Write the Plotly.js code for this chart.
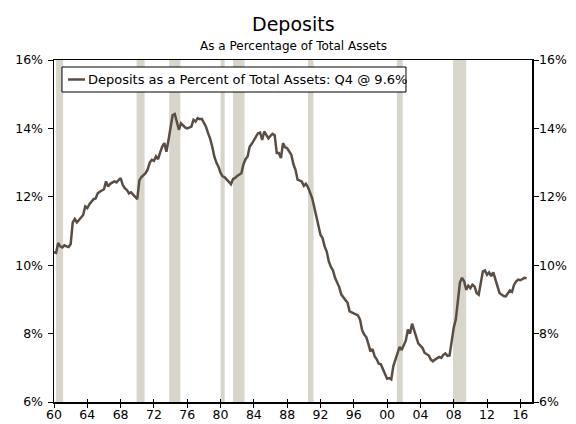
<!DOCTYPE html>
<html>
<head>
<meta charset="utf-8">
<script src="https://cdn.plot.ly/plotly-3.0.1.min.js"></script>
<style>html,body{margin:0;padding:0;background:#fff;}#chart{width:576px;height:424px;}</style>
</head>
<body>
<div id="chart"></div>
<script>
// Quarterly values, 1960Q1 .. 2016Q4 (four per year)
var startYear = 1960;
var depositsPct = [
  10.38, 10.36, 10.65, 10.55, // 1960
  10.52, 10.58, 10.55, 10.53, // 1961
  10.62, 11.25, 11.35, 11.25, // 1962
  11.32, 11.40, 11.47, 11.72, // 1963
  11.67, 11.78, 11.86, 11.93, // 1964
  11.95, 12.10, 12.15, 12.18, // 1965
  12.22, 12.45, 12.30, 12.38, // 1966
  12.42, 12.45, 12.42, 12.48, // 1967
  12.55, 12.35, 12.25, 12.20, // 1968
  12.10, 12.13, 12.05, 12.00, // 1969
  11.93, 12.48, 12.58, 12.64, // 1970
  12.69, 12.80, 13.00, 13.08, // 1971
  13.05, 13.18, 13.10, 13.30, // 1972
  13.47, 13.57, 13.32, 13.66, // 1973
  14.05, 14.39, 14.42, 14.15, // 1974
  13.96, 14.15, 14.08, 14.03, // 1975
  14.00, 14.02, 14.05, 14.25, // 1976
  14.20, 14.30, 14.27, 14.28, // 1977
  14.15, 14.05, 13.86, 13.70, // 1978
  13.47, 13.18, 13.00, 12.88, // 1979
  12.70, 12.60, 12.57, 12.50, // 1980
  12.45, 12.37, 12.52, 12.55, // 1981
  12.61, 12.65, 12.69, 12.95, // 1982
  13.10, 13.18, 13.47, 13.55, // 1983
  13.66, 13.76, 13.86, 13.88, // 1984
  13.66, 13.91, 13.80, 13.71, // 1985
  13.78, 13.84, 13.80, 13.28, // 1986
  13.28, 13.13, 13.57, 13.45, // 1987
  13.42, 13.32, 13.23, 12.95, // 1988
  12.79, 12.50, 12.47, 12.45, // 1989
  12.32, 12.38, 12.28, 12.10, // 1990
  11.96, 11.70, 11.40, 11.10, // 1991
  10.89, 10.79, 10.55, 10.40, // 1992
  10.11, 9.95, 9.85, 9.63,    // 1993
  9.50, 9.36, 9.14, 9.05,     // 1994
  8.99, 8.90, 8.65, 8.62,     // 1995
  8.60, 8.55, 8.53, 8.41,     // 1996
  8.10, 7.97, 7.90, 7.70,     // 1997
  7.48, 7.55, 7.34, 7.25,     // 1998
  7.12, 7.10, 6.95, 6.80,     // 1999
  6.68, 6.70, 6.66, 7.05,     // 2000
  7.25, 7.39, 7.61, 7.52,     // 2001
  7.68, 7.80, 8.12, 8.00,     // 2002
  8.29, 8.10, 7.87, 7.71,     // 2003
  7.65, 7.58, 7.44, 7.40,     // 2004
  7.36, 7.24, 7.19, 7.24,     // 2005
  7.28, 7.32, 7.29, 7.38,     // 2006
  7.42, 7.35, 7.36, 7.75,     // 2007
  8.17, 8.41, 8.90, 9.50,     // 2008
  9.63, 9.53, 9.28, 9.40,     // 2009
  9.33, 9.43, 9.38, 9.19,     // 2010
  9.14, 9.48, 9.82, 9.85,     // 2011
  9.72, 9.79, 9.68, 9.79,     // 2012
  9.57, 9.38, 9.19, 9.14,     // 2013
  9.10, 9.09, 9.16, 9.26,     // 2014
  9.22, 9.43, 9.53, 9.58,     // 2015
  9.56, 9.60, 9.63, 9.62      // 2016
];

// Recession periods (decimal years)
var recessionStart = [1960.25, 1969.92, 1973.83, 1980.00, 1981.50, 1990.50, 2001.17, 2007.92];
var recessionEnd   = [1961.10, 1970.88, 1975.17, 1980.50, 1982.88, 1991.17, 2001.88, 2009.50];

var xTickVals = [1960,1964,1968,1972,1976,1980,1984,1988,1992,1996,2000,2004,2008,2012,2016];
var xTickText = ['60','64','68','72','76','80','84','88','92','96','00','04','08','12','16'];
var yTickVals = [6, 8, 10, 12, 14, 16];
var yTickText = ['6%','8%','10%','12%','14%','16%'];

var seriesName = 'Deposits as a Percent of Total Assets: Q4 @ 9.6%';
var titleText = 'Deposits';
var subtitleText = 'As a Percentage of Total Assets';

var xs = depositsPct.map(function(v, i){ return startYear + i / 4; });

var lineColor = '#5a4e44';
var recColor = '#d8d5ca';
var fontFam = 'Verdana, "DejaVu Sans", sans-serif';

var traces = [
  {x: xs, y: depositsPct, type: 'scatter', mode: 'lines', name: seriesName, showlegend: false,
   line: {color: lineColor, width: 2.5}, hoverinfo: 'skip'},
  {x: xs, y: depositsPct, type: 'scatter', mode: 'lines', xaxis: 'x2', yaxis: 'y2', showlegend: false,
   line: {color: 'rgba(0,0,0,0)', width: 0}, hoverinfo: 'skip'}
];

var shapes = recessionStart.map(function(s, i){
  return {type: 'rect', xref: 'x', yref: 'paper', x0: s, x1: recessionEnd[i], y0: 0, y1: 1,
          fillcolor: recColor, line: {width: 0}, layer: 'below'};
});
// legend box (white, black border) and its line sample
shapes.push({type: 'rect', xref: 'paper', yref: 'paper', x0: 0.0167, x1: 0.7364, y0: 0.9064, y1: 0.9795,
             fillcolor: '#fff', line: {color: '#000', width: 1}, layer: 'above'});
shapes.push({type: 'line', xref: 'paper', yref: 'paper', x0: 0.0293, x1: 0.0649, y0: 0.943, y1: 0.943,
             line: {color: lineColor, width: 2.5}, layer: 'above'});

var axisCommon = {showgrid: false, zeroline: false, showline: true, linecolor: '#000', linewidth: 1.5,
                  tickcolor: '#000', tickwidth: 1,
                  tickfont: {family: fontFam, size: 12.5, color: '#000'}};

var layout = {
  width: 576, height: 424,
  margin: {l: 54, r: 44, t: 60, b: 22},
  paper_bgcolor: '#fff', plot_bgcolor: '#fff',
  font: {family: fontFam, size: 12, color: '#000'},
  showlegend: false,
  annotations: [
    {text: titleText, xref: 'paper', yref: 'paper', x: 0.5, y: 1.105, xanchor: 'center', yanchor: 'middle',
     showarrow: false, font: {family: fontFam, size: 19, color: '#000'}},
    {text: subtitleText, xref: 'paper', yref: 'paper', x: 0.5, y: 1.041, xanchor: 'center', yanchor: 'middle',
     showarrow: false, font: {family: fontFam, size: 12, color: '#000'}},
    {text: seriesName, xref: 'paper', yref: 'paper', x: 0.066, y: 0.943, xanchor: 'left', yanchor: 'middle',
     showarrow: false, font: {family: fontFam, size: 13, color: '#000'}}
  ],
  xaxis: Object.assign({}, axisCommon, {range: [1960, 2017.4], tickvals: xTickVals, ticktext: xTickText,
          mirror: true, ticks: 'outside', ticklen: 4, ticklabelstandoff: -4}),
  xaxis2: {range: [1960, 2017.4], tickvals: xTickVals, overlaying: 'x', anchor: 'y', side: 'bottom',
           showticklabels: false, showgrid: false, zeroline: false, showline: false,
           ticks: 'inside', ticklen: 3, tickcolor: '#000', tickwidth: 1},
  yaxis: Object.assign({}, axisCommon, {range: [6, 16], tickvals: yTickVals, ticktext: yTickText,
          ticks: 'outside', ticklen: 5, ticklabelstandoff: 2}),
  yaxis2: Object.assign({}, axisCommon, {range: [6, 16], tickvals: yTickVals, ticktext: yTickText,
          overlaying: 'y', side: 'right', anchor: 'x', ticks: 'outside', ticklen: 5, ticklabelstandoff: -2}),
  shapes: shapes
};

Plotly.newPlot('chart', traces, layout, {displayModeBar: false, staticPlot: true});
</script>
</body>
</html>
